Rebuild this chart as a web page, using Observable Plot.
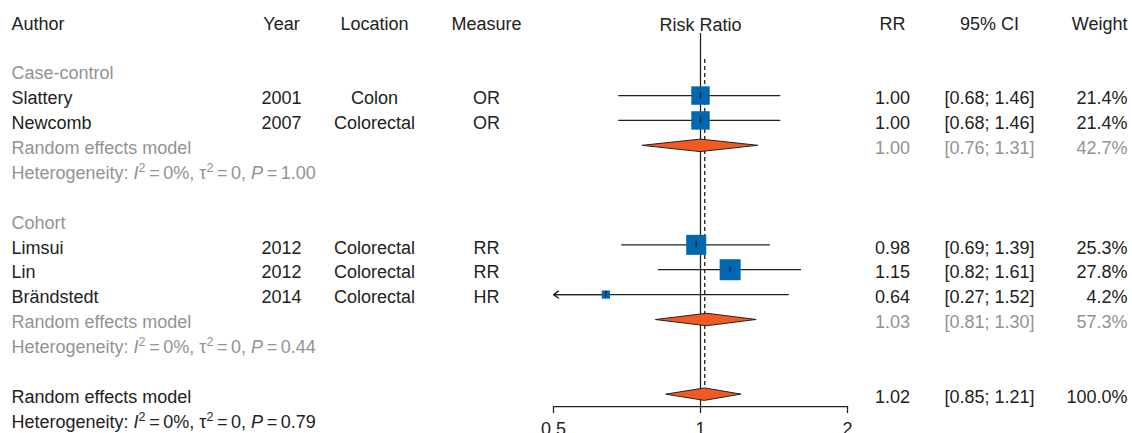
<!DOCTYPE html>
<html><head><meta charset="utf-8">
<script src="https://cdn.jsdelivr.net/npm/d3@7"></script>
<script src="https://cdn.jsdelivr.net/npm/@observablehq/plot@0.6"></script>
<style>body{margin:0;background:#fff;} svg{display:block}</style>
</head><body><div id="chart"></div>
<script>
// ---- data ----
const headers = ["Author", "Year", "Location", "Measure", "RR", "95% CI", "Weight"];
const axisTitle = "Risk Ratio";
const groups = ["Case-control", "Cohort"];
const authors = ["Slattery", "Newcomb", "Limsui", "Lin", "Brändstedt"];
const studyGroup = ["Case-control", "Case-control", "Cohort", "Cohort", "Cohort"];
const years = [2001, 2007, 2012, 2012, 2014];
const locations = ["Colon", "Colorectal", "Colorectal", "Colorectal", "Colorectal"];
const measures = ["OR", "OR", "RR", "RR", "HR"];
const rr = [1.00, 1.00, 0.98, 1.15, 0.64];
const lower = [0.68, 0.68, 0.69, 0.82, 0.27];
const upper = [1.46, 1.46, 1.39, 1.61, 1.52];
const weights = [21.4, 21.4, 25.3, 27.8, 4.2];

const groupRR = [1.00, 1.03];
const groupLower = [0.76, 0.81];
const groupUpper = [1.31, 1.30];
const groupWeight = [42.7, 57.3];
const groupI2 = ["0%", "0%"];
const groupTau2 = ["0", "0"];
const groupP = ["1.00", "0.44"];

const overallRR = 1.02, overallLower = 0.85, overallUpper = 1.21, overallWeight = 100.0;
const overallI2 = "0%", overallTau2 = "0", overallP = "0.79";
const modelLabel = "Random effects model";
const xTicks = [0.5, 1, 2];

// ---- styles / layout ----
const blue = "#0067b1", orange = "#f15a22", ink = "#222222", gray = "#939393";
const FONT = "'Liberation Sans', Arial, Helvetica, sans-serif";
const columns = [
  {key: "author", x: 11, anchor: "start"},
  {key: "year", x: 281, anchor: "middle"},
  {key: "location", x: 374, anchor: "middle"},
  {key: "measure", x: 486, anchor: "middle"},
  {key: "rrText", x: 892, anchor: "middle"},
  {key: "ci", x: 989, anchor: "middle"},
  {key: "weight", x: 1127, anchor: "end"}
];
const dh = 0.25; // diamond half height in rows

// ---- build rows ----
const f2 = v => v.toFixed(2);
const het = (i2, t2, p) => `Heterogeneity: I^2=${i2}, τ^2=${t2}, P=${p}`;
const rows = [];
rows.push(Object.fromEntries(columns.map((c, i) => [c.key, headers[i]])));
rows[0].row = 0; rows[0].color = ink;
const studies = [], summaries = [];
let r = 2;
groups.forEach((g, gi) => {
  rows.push({row: r++, author: g, color: gray});
  authors.forEach((a, i) => {
    if (studyGroup[i] !== g) return;
    const s = {row: r++, author: a, year: String(years[i]), location: locations[i], measure: measures[i],
      rr: rr[i], lo: lower[i], hi: upper[i], w: weights[i],
      rrText: f2(rr[i]), ci: `[${f2(lower[i])}; ${f2(upper[i])}]`, weight: weights[i].toFixed(1) + "%", color: ink};
    studies.push(s); rows.push(s);
  });
  const sr = r++;
  rows.push({row: sr, author: modelLabel, rrText: f2(groupRR[gi]), ci: `[${f2(groupLower[gi])}; ${f2(groupUpper[gi])}]`, weight: groupWeight[gi].toFixed(1) + "%", color: gray});
  summaries.push({id: g, row: sr, est: groupRR[gi], lo: groupLower[gi], hi: groupUpper[gi]});
  rows.push({row: r++, author: het(groupI2[gi], groupTau2[gi], groupP[gi]), color: gray});
  r++;
});
const orow = r++;
rows.push({row: orow, author: modelLabel, rrText: f2(overallRR), ci: `[${f2(overallLower)}; ${f2(overallUpper)}]`, weight: overallWeight.toFixed(1) + "%", color: ink});
summaries.push({id: "overall", row: orow, est: overallRR, lo: overallLower, hi: overallUpper});
const hrow = r++;
rows.push({row: hrow, author: het(overallI2, overallTau2, overallP), color: ink});

const diamondPts = summaries.flatMap(s => [
  {id: s.id, x: s.lo, y: s.row}, {id: s.id, x: s.est, y: s.row - dh},
  {id: s.id, x: s.hi, y: s.row}, {id: s.id, x: s.est, y: s.row + dh}
]);
const clipped = studies.filter(d => d.lo < xTicks[0]);

const textMarks = columns.map(c => Plot.text(rows.filter(d => d[c.key] != null), {
  y: "row", text: c.key, frameAnchor: "left", dx: c.x, dy: 3, textAnchor: c.anchor,
  fill: "color", fontSize: 18, fontFamily: FONT
}));

const chart = Plot.plot({
  width: 1132, height: 433,
  marginTop: 33, marginBottom: 27, marginLeft: 0, marginRight: 0,
  style: {fontFamily: FONT, fontSize: "18px", background: "#fff", color: ink},
  x: {type: "log", domain: [xTicks[0], xTicks[xTicks.length - 1]], range: [553, 847]},
  y: {domain: [0, hrow], range: [20.4, 418.5], axis: null},
  r: {type: "sqrt", domain: [0, d3.max(weights)], range: [0, 11.85]},
  color: {type: "identity"},
  marks: [
    Plot.ruleX([1], {stroke: ink, strokeWidth: 1.3}),
    Plot.ruleX([overallRR], {y1: 1.55, y2: orow - dh, stroke: ink, strokeWidth: 1.3, strokeDasharray: "4,3"}),
    Plot.ruleY(studies, {y: "row", x1: d => Math.max(d.lo, xTicks[0]), x2: d => Math.min(d.hi, xTicks[2]), stroke: ink, strokeWidth: 1.3}),
    Plot.arrow(clipped, {x1: "rr", x2: () => xTicks[0], y1: "row", y2: "row", stroke: ink, strokeWidth: 1.3, headLength: 7, headAngle: 70}),
    Plot.dot(studies, {x: "rr", y: "row", r: "w", symbol: "square", fill: blue, stroke: null}),
    Plot.ruleX(studies, {x: "rr", y1: d => d.row - 0.13, y2: d => d.row + 0.13, stroke: ink, strokeWidth: 1.3}),
    Plot.line(diamondPts, {x: "x", y: "y", z: "id", curve: "linear-closed", fill: orange, stroke: ink, strokeWidth: 1}),
    Plot.ruleY([orow + 0.5], {x1: xTicks[0], x2: xTicks[2], stroke: ink, strokeWidth: 1.3}),
    Plot.axisX({ticks: xTicks, tickFormat: d => String(d), tickSize: 7, tickPadding: 9, fontSize: 18, label: null, stroke: ink, strokeWidth: 1.3}),
    Plot.text([axisTitle], {x: 1, y: 0, text: d => d, dy: 4, fill: ink, fontSize: 18, fontFamily: FONT}),
    ...textMarks
  ]
});
document.getElementById("chart").appendChild(chart);

// Rich text for heterogeneity lines (italic I, P and superscripts, spaced "=")
const EQ = "\u2009=\u2009";
d3.select(chart).selectAll("text").each(function() {
  const m = /^Heterogeneity: I\^2=(.*), τ\^2=(.*), P=(.*)$/.exec(this.textContent);
  if (!m) return;
  const t = d3.select(this);
  t.text(null);
  const parts = [
    ["Heterogeneity: ", {}], ["I", {italic: true}], ["2", {sup: true}], [EQ + m[1] + ", τ", {}],
    ["2", {sup: true}], [EQ + m[2] + ", ", {}], ["P", {italic: true}], [EQ + m[3], {}]
  ];
  let raised = false;
  parts.forEach(([s, o]) => {
    const ts = t.append("tspan").text(s);
    if (o.italic) ts.attr("font-style", "italic");
    if (o.sup) { ts.attr("font-size", 12.5).attr("dy", "-7"); raised = true; }
    else if (raised) { ts.attr("dy", "7"); raised = false; }
  });
});
</script>
</body></html>
